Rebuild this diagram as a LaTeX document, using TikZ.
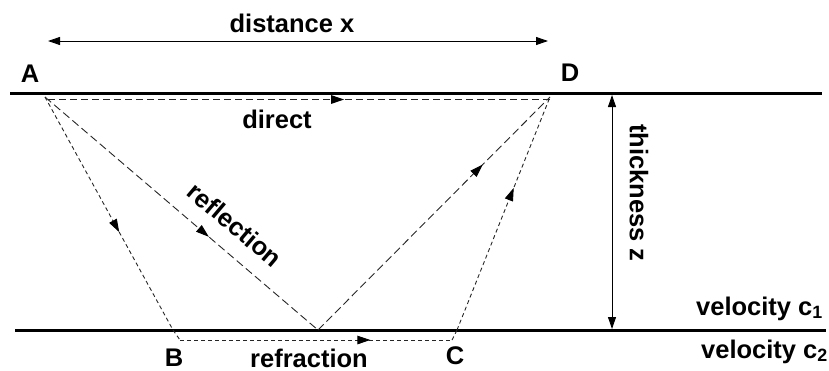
\documentclass[tikz,border=0pt]{standalone}
\usepackage{fontspec}
\setmainfont{Liberation Sans}
\usetikzlibrary{arrows.meta,decorations.markings}
\tikzset{
  lbl/.style={font=\fontsize{25.5}{28}\selectfont\bfseries, inner sep=0pt, anchor=base},
  layer/.style={line width=3pt},
  dimarrow/.style={line width=0.9pt, {Triangle[length=12pt,width=8pt]}-{Triangle[length=12pt,width=8pt]}},
  ray/.style={line width=0.9pt, black!85},
  shortdash/.style={dash pattern=on 4pt off 3pt},
  longdash/.style={dash pattern=on 8pt off 4pt},
  meddash/.style={dash pattern=on 7pt off 4pt},
  midarrow/.style={postaction={decorate}, decoration={markings,
     mark=at position #1 with {\arrow[black]{Triangle[length=13pt,width=8.5pt]}}}}
}
\begin{document}
\begin{tikzpicture}[x=1pt,y=-1pt]
\useasboundingbox (0,0) rectangle (829,370);
% layers
\coordinate (T1) at (10,93);
\coordinate (T2) at (822,93);
\coordinate (L1) at (15,330);
\coordinate (L2) at (826,330);
\draw[layer] (T1) -- (T2);
\draw[layer] (L1) -- (L2);
% ray points
\coordinate (A) at (45,97);
\coordinate (D) at (550,97);
\coordinate (Ad) at (48,99.5);
\coordinate (Dd) at (550,99.5);
\coordinate (Bin) at (173,330);
\coordinate (B) at (180,340);
\coordinate (C) at (452,340);
\coordinate (Cout) at (457,330);
\coordinate (R) at (318,330);
% distance arrow
\coordinate (X1) at (48,41);
\coordinate (X2) at (548,41);
\draw[dimarrow] (X1) -- (X2);
\node[lbl] (dist) at (292,32) {distance x};
% thickness arrow
\coordinate (Z1) at (612,95);
\coordinate (Z2) at (612,329);
\draw[dimarrow] (Z1) -- (Z2);
\node[lbl, anchor=center, rotate=-90] (thick) at (639,193) {thickness z};
% direct
\draw[ray, meddash, midarrow=0.59] (Ad) -- (Dd);
% refraction
\draw[ray, shortdash, midarrow=0.58] (A) -- (Bin);
\draw[ray, shortdash] (Bin) -- (B);
\draw[ray, shortdash, midarrow=0.70] (B) -- (C);
\draw[ray, shortdash] (C) -- (Cout);
\draw[ray, shortdash, midarrow=0.61] (Cout) -- (D);
% reflection
\draw[ray, longdash, midarrow=0.60] (A) -- (R);
\draw[ray, longdash, midarrow=0.71] (R) -- (D);
% labels
\node[lbl] (la) at (30,82) {A};
\node[lbl] (ld) at (570,81) {D};
\node[lbl] (lb) at (174,366) {B};
\node[lbl] (lc) at (455,364) {C};
\node[lbl] (ldirect) at (277,128) {direct};
\node[lbl] (lrefr) at (309,367) {refraction};
\node[lbl, anchor=center, rotate=-40.3] (lrefl) at (235,225) {reflection};
\node[lbl, anchor=base east] (v1) at (823,315) {velocity c\textsubscript{1}};
\node[lbl, anchor=base east] (v2) at (828,358) {velocity c\textsubscript{2}};
\end{tikzpicture}
\end{document}
